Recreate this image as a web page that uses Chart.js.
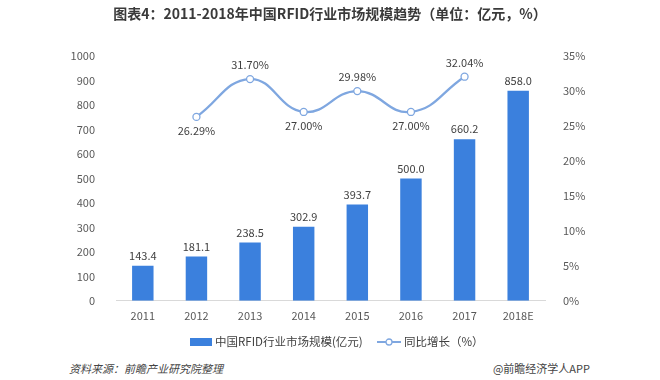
<!DOCTYPE html>
<html><head><meta charset="utf-8">
<script src="https://cdn.jsdelivr.net/npm/chart.js@4/dist/chart.umd.min.js"></script>
<style>
html,body{margin:0;padding:0;background:#fff;}
#wrap{position:relative;width:660px;height:380px;overflow:hidden;font-family:"Noto Sans CJK SC","Noto Sans",sans-serif;}
#title{position:absolute;left:0;top:3px;width:660px;text-align:center;font-size:14px;font-weight:bold;color:#3a3a3a;}
#src{position:absolute;left:69px;top:360px;font-size:11px;font-style:italic;color:#444;}
#app{position:absolute;right:70px;top:360px;font-size:11px;color:#444;}
.lg{position:absolute;top:333px;font-size:11.5px;color:#404040;line-height:16px;white-space:nowrap;}
.lg canvas{position:static;vertical-align:middle;margin-right:3px;margin-top:-2px;}
#chartc{position:absolute;left:0;top:0;}
</style></head>
<body><div id="wrap">
<canvas id="chartc" width="660" height="360"></canvas>
<div id="title">图表4：2011-2018年中国RFID行业市场规模趋势（单位：亿元，%）</div>
<div class="lg" id="lg1" style="left:190px"></div>
<div class="lg" id="lg2" style="left:377px"></div>
<div id="src">资料来源：前瞻产业研究院整理</div>
<div id="app">@前瞻经济学人APP</div>
</div>
<script>
const categories = ["2011","2012","2013","2014","2015","2016","2017","2018E"];
const marketSize = [143.4,181.1,238.5,302.9,393.7,500.0,660.2,858.0];
const growthRate = [null,26.29,31.70,27.00,29.98,27.00,32.04,null];
const growthLabelPos = [null,"below","above","below","above","below","above",null];
const leftTicks = [0,100,200,300,400,500,600,700,800,900,1000];
const rightTicks = [0,5,10,15,20,25,30,35];
const seriesNames = ["中国RFID行业市场规模(亿元)","同比增长（%）"];

const barColor = "#3b80dd";
const lineColor = "#7fa7e0";
const FONT = '"Noto Sans CJK SC","Noto Sans",sans-serif';

function barIcon(){
  const c=document.createElement('canvas');c.width=22;c.height=8;
  const g=c.getContext('2d');g.fillStyle=barColor;g.fillRect(0,0,22,8);return c;
}
function lineIcon(){
  const c=document.createElement('canvas');c.width=24;c.height=8;
  const g=c.getContext('2d');g.strokeStyle=lineColor;g.lineWidth=2;
  g.beginPath();g.moveTo(0,4);g.lineTo(24,4);g.stroke();
  g.beginPath();g.arc(12,4,3,0,Math.PI*2);g.fillStyle="#fff";g.fill();g.lineWidth=1.3;g.stroke();
  return c;
}
const lg1=document.getElementById('lg1');lg1.appendChild(barIcon());lg1.appendChild(document.createTextNode(seriesNames[0]));
const lg2=document.getElementById('lg2');lg2.appendChild(lineIcon());lg2.appendChild(document.createTextNode(seriesNames[1]));

const labelPlugin = {
  id:'valLabels',
  afterDatasetsDraw(chart){
    const ctx=chart.ctx;
    ctx.save();
    ctx.font='11px '+FONT;
    ctx.fillStyle='#404040';
    ctx.textAlign='center';
    ctx.textBaseline='middle';
    const mb=chart.getDatasetMeta(0);
    mb.data.forEach((el,i)=>{
      ctx.fillText(marketSize[i].toFixed(1), el.x, el.y-10);
    });
    const ml=chart.getDatasetMeta(1);
    ml.data.forEach((el,i)=>{
      if(growthRate[i]==null) return;
      const dy = growthLabelPos[i]==="above" ? -14 : 14;
      ctx.fillText(growthRate[i].toFixed(2)+'%', el.x, el.y+dy);
    });
    ctx.restore();
  }
};

new Chart(document.getElementById('chartc'),{
  data:{
    labels:categories,
    datasets:[
      {type:'bar',label:seriesNames[0],data:marketSize,backgroundColor:barColor,
       yAxisID:'y',categoryPercentage:1,barPercentage:0.4,order:2},
      {type:'line',label:seriesNames[1],data:growthRate,borderColor:lineColor,borderWidth:2.3,
       tension:0.45,pointRadius:3.5,pointBackgroundColor:'#fff',pointBorderColor:lineColor,pointBorderWidth:1.3,
       yAxisID:'y1',spanGaps:false,order:1}
    ]
  },
  options:{
    responsive:false,animation:false,
    layout:{padding:{top:56,left:0,right:0,bottom:30}},
    plugins:{title:{display:false},tooltip:{enabled:false},legend:{display:false}},
    scales:{
      x:{grid:{display:false,drawTicks:false},border:{display:true,color:'#d9d9d9'},
         ticks:{font:{family:FONT,size:11},color:'#595959',padding:8}},
      y:{position:'left',min:0,max:1000,grid:{display:false},border:{display:false},
         afterBuildTicks(s){s.ticks=leftTicks.map(v=>({value:v}));},
         afterFit(s){s.width=116;},
         ticks:{font:{family:FONT,size:11},color:'#595959',padding:13,callback:v=>String(v)}},
      y1:{position:'right',min:0,max:35,grid:{display:false},border:{display:false},
         afterBuildTicks(s){s.ticks=rightTicks.map(v=>({value:v}));},
         afterFit(s){s.width=115;},
         ticks:{font:{family:FONT,size:11},color:'#595959',padding:10,callback:v=>v+'%'}}
    }
  },
  plugins:[labelPlugin]
});
</script>
</body></html>
